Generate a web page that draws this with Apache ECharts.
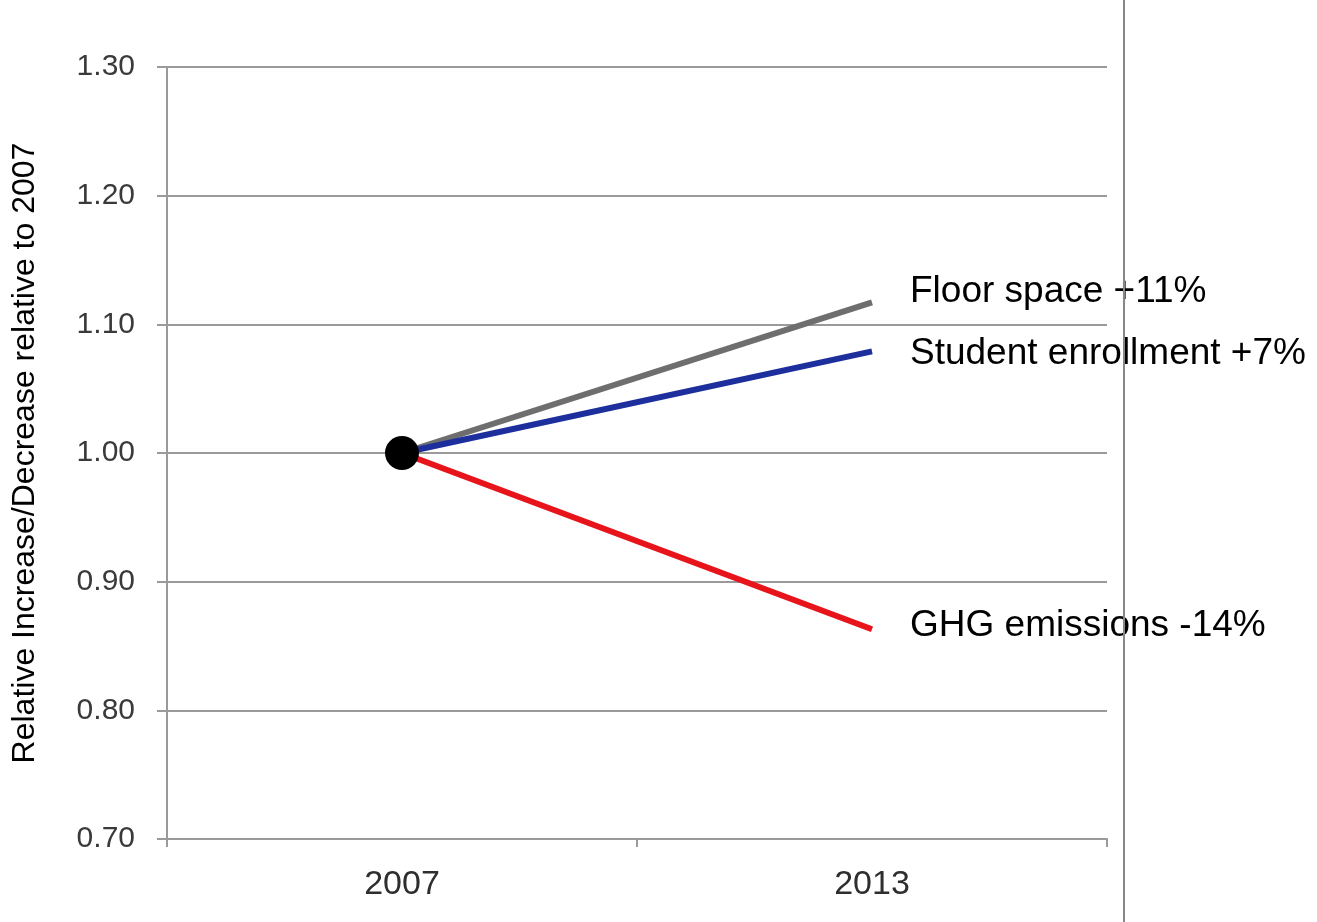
<!DOCTYPE html>
<html>
<head>
<meta charset="utf-8">
<script src="https://cdn.jsdelivr.net/npm/echarts@6/dist/echarts.min.js"></script>
<style>
html,body{margin:0;padding:0;background:#fff;}
#chart{width:1317px;height:922px;}
</style>
</head>
<body>
<div id="chart"></div>
<script>
var years = ['2007', '2013'];
var floorSpace = [1.00, 1.117];
var studentEnrollment = [1.00, 1.079];
var ghgEmissions = [1.00, 0.863];
var baseline = [1.00, null];
var seriesNames = ['Floor space +11%', 'Student enrollment +7%', 'GHG emissions -14%'];
var yTicks = { min: 0.70, max: 1.30, interval: 0.10 };
var yTitle = 'Relative Increase/Decrease relative to 2007';

var chart = echarts.init(document.getElementById('chart'), null, { renderer: 'canvas' });

function endLabel(offset) {
  return {
    show: true,
    distance: 38,
    offset: offset,
    color: '#000',
    fontFamily: 'Liberation Sans, Arial, sans-serif',
    fontSize: 37,
    formatter: function (p) { return p.seriesName; }
  };
}

var option = {
  animation: false,
  backgroundColor: '#fff',
  grid: { left: 167, right: 210, top: 67, bottom: 83, containLabel: false, outerBoundsMode: 'none' },
  xAxis: {
    type: 'category',
    data: years,
    boundaryGap: true,
    axisLine: { show: true, lineStyle: { color: '#9a9a9a', width: 2 } },
    axisTick: { show: true, length: 8, lineStyle: { color: '#9a9a9a', width: 2 } },
    axisLabel: { color: '#2e2e2e', fontFamily: 'Liberation Sans, Arial, sans-serif', fontSize: 34, margin: 29 },
    splitLine: { show: false }
  },
  yAxis: {
    type: 'value',
    min: yTicks.min,
    max: yTicks.max,
    interval: yTicks.interval,
    name: yTitle,
    nameLocation: 'middle',
    nameGap: 126,
    nameRotate: 90,
    nameTextStyle: { color: '#000', fontFamily: 'Liberation Sans, Arial, sans-serif', fontSize: 32 },
    axisLine: { show: true, lineStyle: { color: '#9a9a9a', width: 2 } },
    axisTick: { show: true, length: 10, lineStyle: { color: '#9a9a9a', width: 2 } },
    axisLabel: {
      color: '#3a3a3a', fontFamily: 'Liberation Sans, Arial, sans-serif', fontSize: 30, margin: 32,
      formatter: function (v) { return v.toFixed(2); }
    },
    splitLine: { show: true, lineStyle: { color: '#9a9a9a', width: 2 } }
  },
  graphic: [{
    type: 'line',
    shape: { x1: 1124, y1: 0, x2: 1124, y2: 922 },
    style: { stroke: '#888', lineWidth: 2 },
    z: 100
  }],
  series: [
    {
      name: seriesNames[0], type: 'line', data: floorSpace, symbol: 'none', showSymbol: false,
      lineStyle: { color: '#6e6e6e', width: 6 },
      endLabel: endLabel([0, -11]), z: 3
    },
    {
      name: seriesNames[1], type: 'line', data: studentEnrollment, symbol: 'none', showSymbol: false,
      lineStyle: { color: '#1c2f9c', width: 6 },
      endLabel: endLabel([0, 2]), z: 4
    },
    {
      name: seriesNames[2], type: 'line', data: ghgEmissions, symbol: 'none', showSymbol: false,
      lineStyle: { color: '#e8141c', width: 6 },
      endLabel: endLabel([0, -3]), z: 3
    },
    {
      name: 'base', type: 'scatter', data: baseline, symbol: 'circle', symbolSize: 34,
      itemStyle: { color: '#000', opacity: 1 }, z: 10, silent: true
    }
  ]
};
chart.setOption(option);
</script>
</body>
</html>
